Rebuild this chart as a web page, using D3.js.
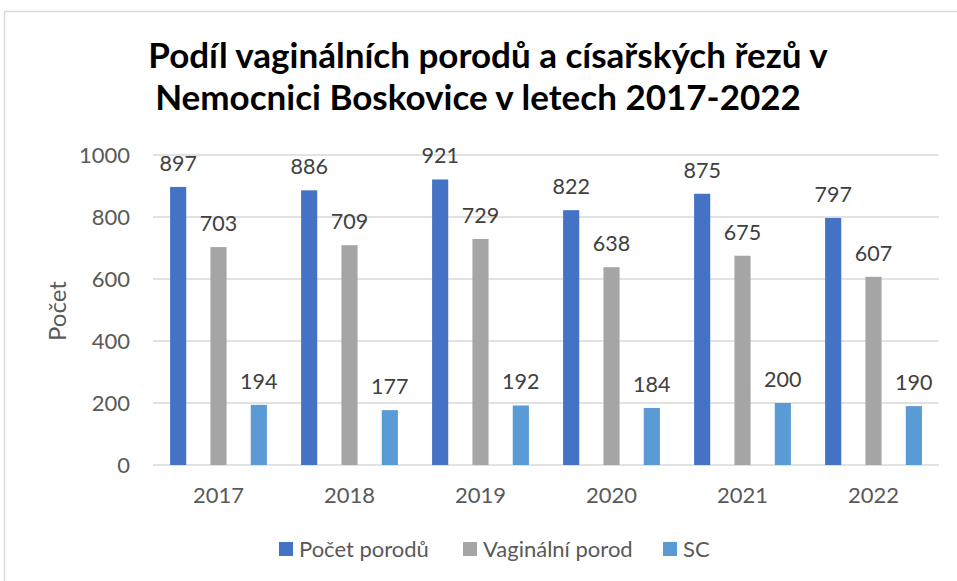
<!DOCTYPE html>
<html>
<head>
<meta charset="utf-8">
<script src="https://cdn.jsdelivr.net/npm/d3@7"></script>
<style>
  body { margin: 0; background: #fff; }
  svg { display: block; font-family: Lato, "Open Sans", sans-serif; }
</style>
</head>
<body>
<div id="chart"></div>
<script>
// Chart data
const years = ['2017', '2018', '2019', '2020', '2021', '2022'];
const seriesNames = ['Počet porodů', 'Vaginální porod', 'SC'];
const pocetPorodu = [897, 886, 921, 822, 875, 797];
const vaginalniPorod = [703, 709, 729, 638, 675, 607];
const sc = [194, 177, 192, 184, 200, 190];
const yTicks = [0, 200, 400, 600, 800, 1000];
const colors = ['#4472C4', '#A5A5A5', '#5B9BD5'];

const W = 957, H = 581;
const plot = { left: 153, right: 939, top: 155, bottom: 465 };

const svg = d3.select('#chart').append('svg')
    .attr('width', W)
    .attr('height', H);

// Outer frame
svg.append('rect')
    .attr('x', 4.5).attr('y', 11.5)
    .attr('width', W).attr('height', H)
    .attr('fill', 'none')
    .attr('stroke', '#D9D9D9')
    .attr('stroke-width', 1.5);

// Title
const title = svg.append('text')
    .attr('text-anchor', 'middle')
    .style('font-size', '35px')
    .style('font-weight', 'bold')
    .style('fill', '#000');
title.append('tspan').attr('x', 488).attr('y', 68)
    .text('Podíl vaginálních porodů a císařských řezů v');
title.append('tspan').attr('x', 478).attr('y', 110)
    .text('Nemocnici Boskovice v letech 2017-2022');

// Scales
const x0 = d3.scaleBand()
    .domain(years)
    .range([plot.left, plot.right])
    .padding(0);

const x1 = d3.scaleBand()
    .domain(seriesNames)
    .range([-60.5, 60.5])
    .paddingInner(0.6)
    .paddingOuter(0.3);

const y = d3.scaleLinear()
    .domain([0, 1000])
    .range([plot.bottom, plot.top]);

// Gridlines
svg.append('g')
    .selectAll('line')
    .data(yTicks)
    .enter().append('line')
    .attr('x1', plot.left).attr('x2', plot.right)
    .attr('y1', d => y(d)).attr('y2', d => y(d))
    .attr('stroke', '#D9D9D9')
    .attr('stroke-width', 1.5);

// Y axis
const yAxis = d3.axisLeft(y).tickValues(yTicks).tickFormat(d3.format('d')).tickSize(0).tickPadding(0);
svg.append('g')
    .attr('transform', `translate(130,0)`)
    .call(yAxis)
    .call(g => g.select('.domain').remove())
    .selectAll('text')
    .style('font-family', 'Lato, sans-serif')
    .style('font-size', '22px')
    .style('fill', '#595959');

// X axis
const xAxis = d3.axisBottom(x0).tickSize(0).tickPadding(0);
svg.append('g')
    .attr('transform', `translate(0,487)`)
    .call(xAxis)
    .call(g => g.select('.domain').remove())
    .selectAll('text')
    .style('font-family', 'Lato, sans-serif')
    .style('font-size', '22px')
    .style('fill', '#595959');

// Y axis label
svg.append('text')
    .attr('transform', 'translate(66,311) rotate(-90)')
    .attr('text-anchor', 'middle')
    .style('font-size', '24px')
    .style('fill', '#595959')
    .text('Počet');

// Bars
const rows = years.map((yr, i) => ({
    year: yr,
    values: [pocetPorodu[i], vaginalniPorod[i], sc[i]]
}));

const groups = svg.selectAll('.group')
    .data(rows)
    .enter().append('g')
    .attr('class', 'group')
    .attr('transform', d => `translate(${x0(d.year) + x0.bandwidth() / 2},0)`);

groups.selectAll('rect')
    .data(d => d.values.map((v, k) => ({ key: seriesNames[k], value: v, k })))
    .enter().append('rect')
    .attr('x', d => x1(d.key))
    .attr('width', x1.bandwidth())
    .attr('y', d => y(d.value))
    .attr('height', d => plot.bottom - y(d.value))
    .attr('fill', d => colors[d.k]);

groups.selectAll('.bar-label')
    .data(d => d.values.map((v, k) => ({ key: seriesNames[k], value: v, k })))
    .enter().append('text')
    .attr('class', 'bar-label')
    .attr('x', d => x1(d.key) + x1.bandwidth() / 2)
    .attr('y', d => y(d.value) - 16)
    .attr('text-anchor', 'middle')
    .style('font-size', '21.5px')
    .style('fill', '#404040')
    .text(d => d.value);

// Legend
const legendX = [279, 463, 663];
const legend = svg.selectAll('.legend')
    .data(seriesNames)
    .enter().append('g')
    .attr('class', 'legend')
    .attr('transform', (d, i) => `translate(${legendX[i]},542)`);

legend.append('rect')
    .attr('width', 14).attr('height', 14)
    .attr('fill', (d, i) => colors[i]);

legend.append('text')
    .attr('x', 20).attr('y', 15)
    .style('font-size', '22px')
    .style('fill', '#595959')
    .text(d => d);
</script>
</body>
</html>
